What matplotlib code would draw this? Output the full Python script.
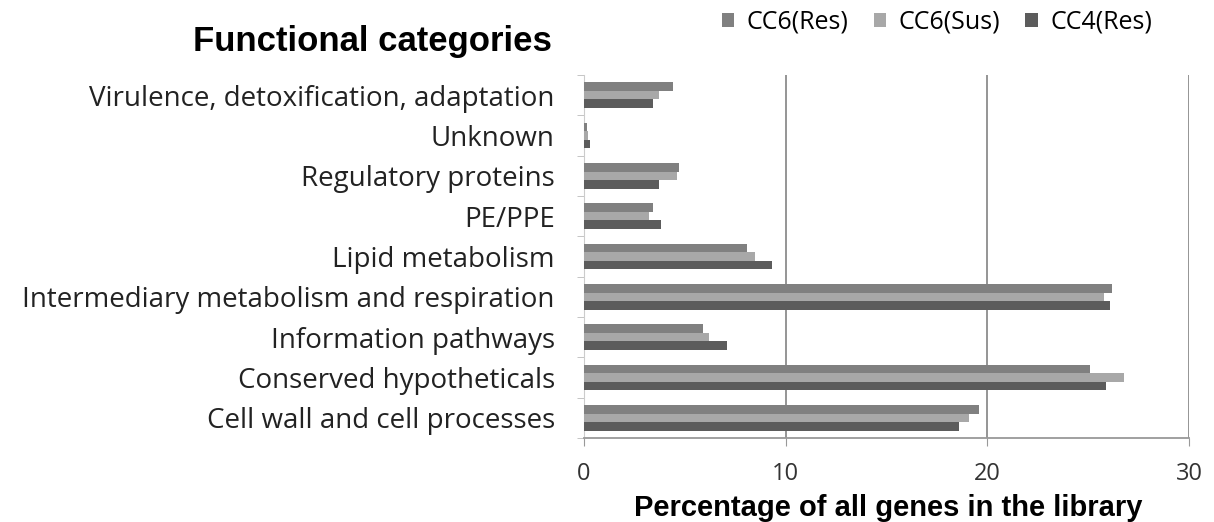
import matplotlib
matplotlib.use('Agg')
import numpy as np
import matplotlib.pyplot as plt

# categories bottom -> top
categories = ['Cell wall and cell processes', 'Conserved hypotheticals',
              'Information pathways', 'Intermediary metabolism and respiration',
              'Lipid metabolism', 'PE/PPE', 'Regulatory proteins', 'Unknown',
              'Virulence, detoxification, adaptation']
cc6_res = [19.6, 25.1, 5.9, 26.2, 8.1, 3.4, 4.7, 0.15, 4.4]
cc6_sus = [19.1, 26.8, 6.2, 25.8, 8.5, 3.2, 4.6, 0.2, 3.7]
cc4_res = [18.6, 25.9, 7.1, 26.1, 9.3, 3.8, 3.7, 0.3, 3.4]
series_names = ['CC6(Res)', 'CC6(Sus)', 'CC4(Res)']
colors = ['#808080', '#a8a8a8', '#5c5c5c']
xticks = [0, 10, 20, 30]

fig = plt.figure(figsize=(12.14, 5.22), dpi=100)
ax = fig.add_axes([584/1214, (522-438)/522, (1189-584)/1214, (438-75)/522])

y = np.arange(len(categories))
h = 0.21
for i, (vals, name, c) in enumerate(zip([cc6_res, cc6_sus, cc4_res], series_names, colors)):
    ax.barh(y + h * (1 - i), vals, height=h, color=c, label=name, zorder=3)

ax.set_xlim(0, 30)
ax.set_ylim(-0.5, len(categories) - 0.5)
ax.set_xticks(xticks)
ax.set_xticklabels([str(t) for t in xticks], fontsize=17, family='Open Sans', color='#333333')
ax.set_yticks(y)
ax.set_yticklabels(categories, fontsize=20, family='Open Sans', color='#222222')
ax.tick_params(axis='y', length=0, pad=21)
ax.tick_params(axis='x', length=6, color='#999999', pad=11)
ax.set_yticks(np.arange(-0.5, len(categories), 1), minor=True)
ax.tick_params(axis='y', which='minor', length=5, color='#bbbbbb')

ax.grid(axis='x', color='#8c8c8c', linewidth=1.3, zorder=0)
for s in ['top', 'right']:
    ax.spines[s].set_visible(False)
ax.spines['left'].set_color('#cccccc')
ax.spines['bottom'].set_color('#999999')
ax.spines['bottom'].set_linewidth(1.3)

fig.text(888/1214, 1 - 508/522, 'Percentage of all genes in the library', fontsize=21,
         fontweight='bold', family='Liberation Sans', ha='center', va='center')
fig.text(552/1214, 1 - 41/522, 'Functional categories', fontsize=25, fontweight='bold',
         family='Liberation Sans', va='center', ha='right')

ax.legend(loc='center', bbox_to_anchor=(937/1214, 1 - 22/522), bbox_transform=fig.transFigure,
          ncol=3, frameon=False, handlelength=0.5, handleheight=0.5,
          columnspacing=1.0, handletextpad=0.5, prop={'family': 'Open Sans', 'size': 18})

fig.savefig('out.png', dpi=100)
